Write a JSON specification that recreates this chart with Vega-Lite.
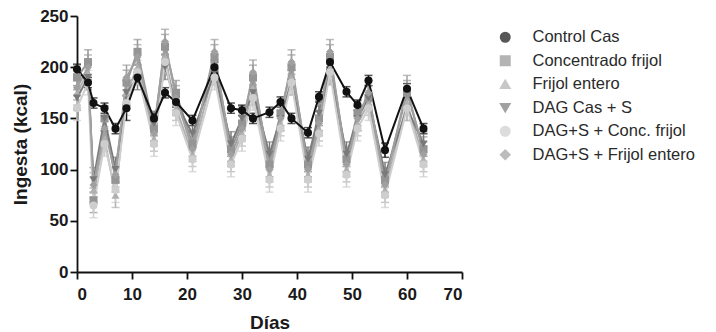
{
  "$schema": "https://vega.github.io/schema/vega-lite/v6.json",
  "width": 385,
  "height": 256,
  "autosize": "none",
  "padding": {"left": 77, "top": 16, "right": 254, "bottom": 60},
  "background": "white",
  "config": {
    "view": {"stroke": null},
    "font": "Liberation Sans",
    "axis": {
      "domainColor": "#111", "domainWidth": 1.8, "tickColor": "#111", "tickWidth": 1.8, "tickSize": 7,
      "labelFont": "Liberation Sans", "labelFontWeight": "bold", "labelFontSize": 17, "labelColor": "#1a1a1a",
      "titleFont": "Liberation Sans", "titleFontWeight": "bold", "titleFontSize": 19, "titleColor": "#1a1a1a",
      "grid": false
    }
  },
  "data": {"values": [
    {"d":0,"s":"Concentrado frijol","v":190,"e":12},{"d":2,"s":"Concentrado frijol","v":205,"e":12},{"d":3,"s":"Concentrado frijol","v":70,"e":12},{"d":5,"s":"Concentrado frijol","v":150,"e":12},{"d":7,"s":"Concentrado frijol","v":90,"e":12},{"d":9,"s":"Concentrado frijol","v":185,"e":12},{"d":11,"s":"Concentrado frijol","v":215,"e":12},{"d":14,"s":"Concentrado frijol","v":140,"e":12},{"d":16,"s":"Concentrado frijol","v":220,"e":12},{"d":18,"s":"Concentrado frijol","v":175,"e":12},{"d":21,"s":"Concentrado frijol","v":125,"e":12},{"d":25,"s":"Concentrado frijol","v":210,"e":12},{"d":28,"s":"Concentrado frijol","v":120,"e":12},{"d":30,"s":"Concentrado frijol","v":145,"e":12},{"d":32,"s":"Concentrado frijol","v":190,"e":12},{"d":35,"s":"Concentrado frijol","v":105,"e":12},{"d":37,"s":"Concentrado frijol","v":155,"e":12},{"d":39,"s":"Concentrado frijol","v":200,"e":12},{"d":42,"s":"Concentrado frijol","v":105,"e":12},{"d":44,"s":"Concentrado frijol","v":150,"e":12},{"d":46,"s":"Concentrado frijol","v":210,"e":12},{"d":49,"s":"Concentrado frijol","v":110,"e":12},{"d":51,"s":"Concentrado frijol","v":155,"e":12},{"d":53,"s":"Concentrado frijol","v":170,"e":12},{"d":56,"s":"Concentrado frijol","v":90,"e":12},{"d":60,"s":"Concentrado frijol","v":175,"e":12},{"d":63,"s":"Concentrado frijol","v":120,"e":12},
    {"d":0,"s":"Frijol entero","v":175,"e":12},{"d":2,"s":"Frijol entero","v":195,"e":12},{"d":3,"s":"Frijol entero","v":80,"e":12},{"d":5,"s":"Frijol entero","v":130,"e":12},{"d":7,"s":"Frijol entero","v":75,"e":12},{"d":9,"s":"Frijol entero","v":175,"e":12},{"d":11,"s":"Frijol entero","v":200,"e":12},{"d":14,"s":"Frijol entero","v":130,"e":12},{"d":16,"s":"Frijol entero","v":210,"e":12},{"d":18,"s":"Frijol entero","v":160,"e":12},{"d":21,"s":"Frijol entero","v":115,"e":12},{"d":25,"s":"Frijol entero","v":200,"e":12},{"d":28,"s":"Frijol entero","v":110,"e":12},{"d":30,"s":"Frijol entero","v":135,"e":12},{"d":32,"s":"Frijol entero","v":180,"e":12},{"d":35,"s":"Frijol entero","v":95,"e":12},{"d":37,"s":"Frijol entero","v":145,"e":12},{"d":39,"s":"Frijol entero","v":190,"e":12},{"d":42,"s":"Frijol entero","v":95,"e":12},{"d":44,"s":"Frijol entero","v":140,"e":12},{"d":46,"s":"Frijol entero","v":200,"e":12},{"d":49,"s":"Frijol entero","v":100,"e":12},{"d":51,"s":"Frijol entero","v":145,"e":12},{"d":53,"s":"Frijol entero","v":165,"e":12},{"d":56,"s":"Frijol entero","v":80,"e":12},{"d":60,"s":"Frijol entero","v":165,"e":12},{"d":63,"s":"Frijol entero","v":110,"e":12},
    {"d":0,"s":"DAG Cas + S","v":170,"e":12},{"d":2,"s":"DAG Cas + S","v":190,"e":12},{"d":3,"s":"DAG Cas + S","v":90,"e":12},{"d":5,"s":"DAG Cas + S","v":150,"e":12},{"d":7,"s":"DAG Cas + S","v":100,"e":12},{"d":9,"s":"DAG Cas + S","v":175,"e":12},{"d":11,"s":"DAG Cas + S","v":190,"e":12},{"d":14,"s":"DAG Cas + S","v":145,"e":12},{"d":16,"s":"DAG Cas + S","v":200,"e":12},{"d":18,"s":"DAG Cas + S","v":165,"e":12},{"d":21,"s":"DAG Cas + S","v":135,"e":12},{"d":25,"s":"DAG Cas + S","v":195,"e":12},{"d":28,"s":"DAG Cas + S","v":125,"e":12},{"d":30,"s":"DAG Cas + S","v":150,"e":12},{"d":32,"s":"DAG Cas + S","v":175,"e":12},{"d":35,"s":"DAG Cas + S","v":115,"e":12},{"d":37,"s":"DAG Cas + S","v":150,"e":12},{"d":39,"s":"DAG Cas + S","v":185,"e":12},{"d":42,"s":"DAG Cas + S","v":110,"e":12},{"d":44,"s":"DAG Cas + S","v":155,"e":12},{"d":46,"s":"DAG Cas + S","v":195,"e":12},{"d":49,"s":"DAG Cas + S","v":115,"e":12},{"d":51,"s":"DAG Cas + S","v":150,"e":12},{"d":53,"s":"DAG Cas + S","v":170,"e":12},{"d":56,"s":"DAG Cas + S","v":95,"e":12},{"d":60,"s":"DAG Cas + S","v":160,"e":12},{"d":63,"s":"DAG Cas + S","v":125,"e":12},
    {"d":0,"s":"DAG+S + Conc. frijol","v":160,"e":12},{"d":2,"s":"DAG+S + Conc. frijol","v":185,"e":12},{"d":3,"s":"DAG+S + Conc. frijol","v":65,"e":12},{"d":5,"s":"DAG+S + Conc. frijol","v":125,"e":12},{"d":7,"s":"DAG+S + Conc. frijol","v":80,"e":12},{"d":9,"s":"DAG+S + Conc. frijol","v":165,"e":12},{"d":11,"s":"DAG+S + Conc. frijol","v":195,"e":12},{"d":14,"s":"DAG+S + Conc. frijol","v":125,"e":12},{"d":16,"s":"DAG+S + Conc. frijol","v":205,"e":12},{"d":18,"s":"DAG+S + Conc. frijol","v":155,"e":12},{"d":21,"s":"DAG+S + Conc. frijol","v":110,"e":12},{"d":25,"s":"DAG+S + Conc. frijol","v":190,"e":12},{"d":28,"s":"DAG+S + Conc. frijol","v":105,"e":12},{"d":30,"s":"DAG+S + Conc. frijol","v":130,"e":12},{"d":32,"s":"DAG+S + Conc. frijol","v":170,"e":12},{"d":35,"s":"DAG+S + Conc. frijol","v":90,"e":12},{"d":37,"s":"DAG+S + Conc. frijol","v":140,"e":12},{"d":39,"s":"DAG+S + Conc. frijol","v":185,"e":12},{"d":42,"s":"DAG+S + Conc. frijol","v":90,"e":12},{"d":44,"s":"DAG+S + Conc. frijol","v":135,"e":12},{"d":46,"s":"DAG+S + Conc. frijol","v":195,"e":12},{"d":49,"s":"DAG+S + Conc. frijol","v":95,"e":12},{"d":51,"s":"DAG+S + Conc. frijol","v":140,"e":12},{"d":53,"s":"DAG+S + Conc. frijol","v":160,"e":12},{"d":56,"s":"DAG+S + Conc. frijol","v":75,"e":12},{"d":60,"s":"DAG+S + Conc. frijol","v":160,"e":12},{"d":63,"s":"DAG+S + Conc. frijol","v":105,"e":12},
    {"d":0,"s":"DAG+S + Frijol entero","v":180,"e":12},{"d":2,"s":"DAG+S + Frijol entero","v":200,"e":12},{"d":3,"s":"DAG+S + Frijol entero","v":85,"e":12},{"d":5,"s":"DAG+S + Frijol entero","v":140,"e":12},{"d":7,"s":"DAG+S + Frijol entero","v":95,"e":12},{"d":9,"s":"DAG+S + Frijol entero","v":190,"e":12},{"d":11,"s":"DAG+S + Frijol entero","v":210,"e":12},{"d":14,"s":"DAG+S + Frijol entero","v":135,"e":12},{"d":16,"s":"DAG+S + Frijol entero","v":225,"e":12},{"d":18,"s":"DAG+S + Frijol entero","v":170,"e":12},{"d":21,"s":"DAG+S + Frijol entero","v":120,"e":12},{"d":25,"s":"DAG+S + Frijol entero","v":215,"e":12},{"d":28,"s":"DAG+S + Frijol entero","v":115,"e":12},{"d":30,"s":"DAG+S + Frijol entero","v":140,"e":12},{"d":32,"s":"DAG+S + Frijol entero","v":195,"e":12},{"d":35,"s":"DAG+S + Frijol entero","v":100,"e":12},{"d":37,"s":"DAG+S + Frijol entero","v":150,"e":12},{"d":39,"s":"DAG+S + Frijol entero","v":205,"e":12},{"d":42,"s":"DAG+S + Frijol entero","v":100,"e":12},{"d":44,"s":"DAG+S + Frijol entero","v":145,"e":12},{"d":46,"s":"DAG+S + Frijol entero","v":215,"e":12},{"d":49,"s":"DAG+S + Frijol entero","v":105,"e":12},{"d":51,"s":"DAG+S + Frijol entero","v":150,"e":12},{"d":53,"s":"DAG+S + Frijol entero","v":175,"e":12},{"d":56,"s":"DAG+S + Frijol entero","v":85,"e":12},{"d":60,"s":"DAG+S + Frijol entero","v":180,"e":12},{"d":63,"s":"DAG+S + Frijol entero","v":115,"e":12},
    {"d":0,"s":"Control Cas","v":198,"e":5},{"d":2,"s":"Control Cas","v":185,"e":5},{"d":3,"s":"Control Cas","v":165,"e":5},{"d":5,"s":"Control Cas","v":160,"e":5},{"d":7,"s":"Control Cas","v":140,"e":5},{"d":9,"s":"Control Cas","v":160,"e":12},{"d":11,"s":"Control Cas","v":190,"e":5},{"d":14,"s":"Control Cas","v":150,"e":5},{"d":16,"s":"Control Cas","v":175,"e":5},{"d":18,"s":"Control Cas","v":166,"e":5},{"d":21,"s":"Control Cas","v":148,"e":5},{"d":25,"s":"Control Cas","v":200,"e":5},{"d":28,"s":"Control Cas","v":160,"e":5},{"d":30,"s":"Control Cas","v":158,"e":5},{"d":32,"s":"Control Cas","v":150,"e":5},{"d":35,"s":"Control Cas","v":156,"e":5},{"d":37,"s":"Control Cas","v":166,"e":5},{"d":39,"s":"Control Cas","v":150,"e":5},{"d":42,"s":"Control Cas","v":136,"e":5},{"d":44,"s":"Control Cas","v":171,"e":5},{"d":46,"s":"Control Cas","v":205,"e":5},{"d":49,"s":"Control Cas","v":176,"e":5},{"d":51,"s":"Control Cas","v":163,"e":5},{"d":53,"s":"Control Cas","v":187,"e":5},{"d":56,"s":"Control Cas","v":119,"e":7},{"d":60,"s":"Control Cas","v":179,"e":5},{"d":63,"s":"Control Cas","v":140,"e":5}
  ]},
  "encoding": {
    "x": {"field": "d", "type": "quantitative", "title": "Días",
      "scale": {"domain": [0, 70], "nice": false},
      "axis": {"values": [0,10,20,30,40,50,60,70], "labelPadding": 7, "titlePadding": 11}},
    "y": {"field": "v", "type": "quantitative", "title": "Ingesta (kcal)",
      "scale": {"domain": [0, 250], "nice": false},
      "axis": {"values": [0,50,100,150,200,250], "labelPadding": 2, "titlePadding": 9}},
    "color": {"field": "s", "type": "nominal",
      "scale": {"domain": ["Control Cas","Concentrado frijol","Frijol entero","DAG Cas + S","DAG+S + Conc. frijol","DAG+S + Frijol entero"],
                "range": ["#111111","#959595","#b0b0b0","#7a7a7a","#cecece","#a0a0a0"]},
      "legend": {"title": null, "orient": "none", "legendX": 420, "legendY": 13,
        "labelFontSize": 16.5, "labelFont": "Liberation Sans", "labelColor": "#2a2a2a", "labelLimit": 400, "symbolSize": 90,
        "rowPadding": 6.5, "labelOffset": 19, "symbolStrokeWidth": 1.5}}
  },
  "layer": [
    {"mark": {"type": "errorbar", "ticks": {"size": 8}, "thickness": 1.5}, "encoding": {"yError": {"field": "e"}}},
    {"mark": {"type": "line", "strokeWidth": 2}},
    {"mark": {"type": "point", "filled": true, "size": 65, "opacity": 1},
      "encoding": {"shape": {"field": "s", "type": "nominal",
        "scale": {"domain": ["Control Cas","Concentrado frijol","Frijol entero","DAG Cas + S","DAG+S + Conc. frijol","DAG+S + Frijol entero"],
                  "range": ["circle","square","triangle-up","triangle-down","circle","diamond"]}}}}
  ]
}
